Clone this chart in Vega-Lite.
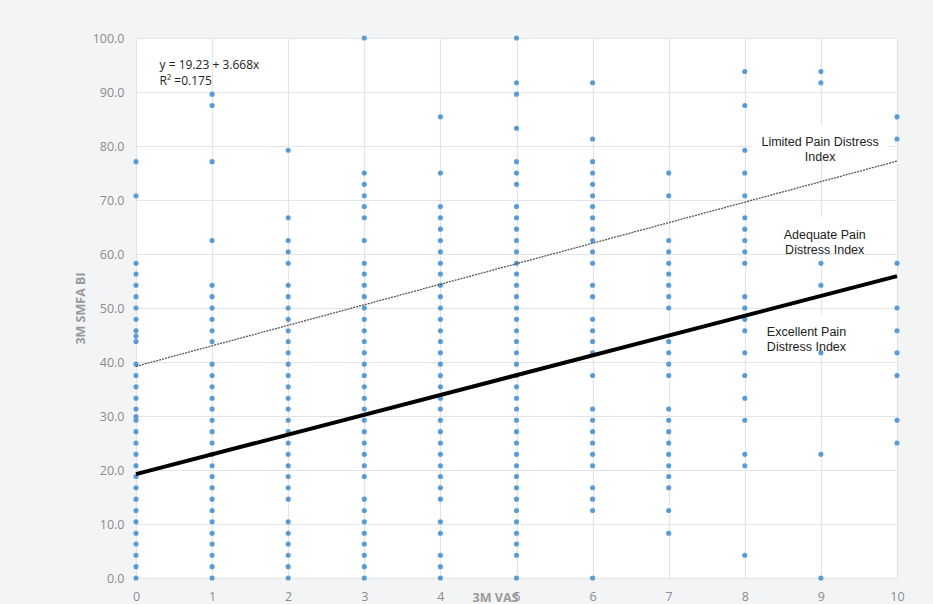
{
  "$schema": "https://vega.github.io/schema/vega-lite/v6.json",
  "autosize": "none",
  "width": 761,
  "height": 540,
  "padding": {"left": 136, "top": 38, "right": 36, "bottom": 26},
  "background": "#f3f4f5",
  "config": {
    "view": {"stroke": null, "fill": "white"},
    "axis": {
      "gridColor": "#e2e4e8",
      "gridWidth": 1.2,
      "domain": false,
      "ticks": false,
      "labelFlush": false,
      "labelOverlap": false,
      "labelColor": "#8c8c8c",
      "labelFont": "Open Sans",
      "labelFontSize": 12.5,
      "titleColor": "#9a9a9a",
      "titleFont": "Open Sans",
      "titleFontSize": 12.5,
      "titleFontWeight": "bold"
    }
  },
  "datasets": {
    "pts": [
      {"x":0,"y":0},{"x":0,"y":2.1},{"x":0,"y":4.2},{"x":0,"y":6.3},{"x":0,"y":8.3},{"x":0,"y":10.4},{"x":0,"y":12.5},{"x":0,"y":14.6},{"x":0,"y":16.7},{"x":0,"y":18.8},{"x":0,"y":20.8},{"x":0,"y":22.9},{"x":0,"y":25.0},{"x":0,"y":27.1},{"x":0,"y":29.2},{"x":0,"y":29.9},{"x":0,"y":31.3},{"x":0,"y":33.3},{"x":0,"y":35.4},{"x":0,"y":37.5},{"x":0,"y":39.6},{"x":0,"y":43.8},{"x":0,"y":44.8},{"x":0,"y":45.8},{"x":0,"y":47.9},{"x":0,"y":50.0},{"x":0,"y":52.1},{"x":0,"y":54.2},{"x":0,"y":56.3},{"x":0,"y":58.3},{"x":0,"y":70.8},{"x":0,"y":77.1},
      {"x":1,"y":0},{"x":1,"y":2.1},{"x":1,"y":4.2},{"x":1,"y":6.3},{"x":1,"y":8.3},{"x":1,"y":10.4},{"x":1,"y":12.5},{"x":1,"y":14.6},{"x":1,"y":16.7},{"x":1,"y":18.8},{"x":1,"y":20.8},{"x":1,"y":22.9},{"x":1,"y":25.0},{"x":1,"y":27.1},{"x":1,"y":29.2},{"x":1,"y":31.3},{"x":1,"y":33.3},{"x":1,"y":35.4},{"x":1,"y":37.5},{"x":1,"y":39.6},{"x":1,"y":43.8},{"x":1,"y":45.8},{"x":1,"y":47.9},{"x":1,"y":50.0},{"x":1,"y":52.1},{"x":1,"y":54.2},{"x":1,"y":62.5},{"x":1,"y":77.1},{"x":1,"y":87.5},{"x":1,"y":89.6},
      {"x":2,"y":0},{"x":2,"y":2.1},{"x":2,"y":4.2},{"x":2,"y":6.3},{"x":2,"y":8.3},{"x":2,"y":10.4},{"x":2,"y":14.6},{"x":2,"y":16.7},{"x":2,"y":18.8},{"x":2,"y":20.8},{"x":2,"y":22.9},{"x":2,"y":25.0},{"x":2,"y":27.1},{"x":2,"y":29.2},{"x":2,"y":31.3},{"x":2,"y":33.3},{"x":2,"y":35.4},{"x":2,"y":37.5},{"x":2,"y":39.6},{"x":2,"y":41.7},{"x":2,"y":43.8},{"x":2,"y":45.8},{"x":2,"y":47.9},{"x":2,"y":50.0},{"x":2,"y":52.1},{"x":2,"y":54.2},{"x":2,"y":58.3},{"x":2,"y":60.4},{"x":2,"y":62.5},{"x":2,"y":66.7},{"x":2,"y":79.2},
      {"x":3,"y":0},{"x":3,"y":2.1},{"x":3,"y":4.2},{"x":3,"y":6.3},{"x":3,"y":8.3},{"x":3,"y":10.4},{"x":3,"y":12.5},{"x":3,"y":14.6},{"x":3,"y":18.8},{"x":3,"y":20.8},{"x":3,"y":22.9},{"x":3,"y":25.0},{"x":3,"y":27.1},{"x":3,"y":29.2},{"x":3,"y":31.3},{"x":3,"y":33.3},{"x":3,"y":35.4},{"x":3,"y":37.5},{"x":3,"y":39.6},{"x":3,"y":41.7},{"x":3,"y":43.8},{"x":3,"y":45.8},{"x":3,"y":47.9},{"x":3,"y":50.0},{"x":3,"y":52.1},{"x":3,"y":54.2},{"x":3,"y":56.3},{"x":3,"y":58.3},{"x":3,"y":62.5},{"x":3,"y":66.7},{"x":3,"y":68.8},{"x":3,"y":70.8},{"x":3,"y":72.9},{"x":3,"y":75.0},{"x":3,"y":100},
      {"x":4,"y":0},{"x":4,"y":2.1},{"x":4,"y":4.2},{"x":4,"y":8.3},{"x":4,"y":10.4},{"x":4,"y":14.6},{"x":4,"y":16.7},{"x":4,"y":18.8},{"x":4,"y":20.8},{"x":4,"y":22.9},{"x":4,"y":25.0},{"x":4,"y":27.1},{"x":4,"y":29.2},{"x":4,"y":31.3},{"x":4,"y":33.3},{"x":4,"y":35.4},{"x":4,"y":37.5},{"x":4,"y":39.6},{"x":4,"y":41.7},{"x":4,"y":43.8},{"x":4,"y":45.8},{"x":4,"y":47.9},{"x":4,"y":50.0},{"x":4,"y":52.1},{"x":4,"y":54.2},{"x":4,"y":56.3},{"x":4,"y":58.3},{"x":4,"y":60.4},{"x":4,"y":62.5},{"x":4,"y":64.6},{"x":4,"y":66.7},{"x":4,"y":68.8},{"x":4,"y":75.0},{"x":4,"y":85.4},
      {"x":5,"y":0},{"x":5,"y":4.2},{"x":5,"y":6.3},{"x":5,"y":8.3},{"x":5,"y":10.4},{"x":5,"y":12.5},{"x":5,"y":14.6},{"x":5,"y":16.7},{"x":5,"y":18.8},{"x":5,"y":20.8},{"x":5,"y":22.9},{"x":5,"y":25.0},{"x":5,"y":27.1},{"x":5,"y":29.2},{"x":5,"y":31.3},{"x":5,"y":33.3},{"x":5,"y":35.4},{"x":5,"y":37.5},{"x":5,"y":39.6},{"x":5,"y":41.7},{"x":5,"y":43.8},{"x":5,"y":45.8},{"x":5,"y":47.9},{"x":5,"y":50.0},{"x":5,"y":52.1},{"x":5,"y":54.2},{"x":5,"y":56.3},{"x":5,"y":58.3},{"x":5,"y":60.4},{"x":5,"y":62.5},{"x":5,"y":64.6},{"x":5,"y":66.7},{"x":5,"y":68.8},{"x":5,"y":72.9},{"x":5,"y":75.0},{"x":5,"y":77.1},{"x":5,"y":83.3},{"x":5,"y":89.6},{"x":5,"y":91.7},{"x":5,"y":100},
      {"x":6,"y":0},{"x":6,"y":12.5},{"x":6,"y":14.6},{"x":6,"y":16.7},{"x":6,"y":20.8},{"x":6,"y":22.9},{"x":6,"y":25.0},{"x":6,"y":27.1},{"x":6,"y":29.2},{"x":6,"y":31.3},{"x":6,"y":37.5},{"x":6,"y":41.7},{"x":6,"y":43.8},{"x":6,"y":45.8},{"x":6,"y":47.9},{"x":6,"y":52.1},{"x":6,"y":54.2},{"x":6,"y":58.3},{"x":6,"y":60.4},{"x":6,"y":62.5},{"x":6,"y":64.6},{"x":6,"y":66.7},{"x":6,"y":68.8},{"x":6,"y":70.8},{"x":6,"y":72.9},{"x":6,"y":75.0},{"x":6,"y":77.1},{"x":6,"y":81.3},{"x":6,"y":91.7},
      {"x":7,"y":8.3},{"x":7,"y":12.5},{"x":7,"y":16.7},{"x":7,"y":18.8},{"x":7,"y":20.8},{"x":7,"y":22.9},{"x":7,"y":25.0},{"x":7,"y":27.1},{"x":7,"y":29.2},{"x":7,"y":31.3},{"x":7,"y":37.5},{"x":7,"y":39.6},{"x":7,"y":41.7},{"x":7,"y":43.8},{"x":7,"y":50.0},{"x":7,"y":52.1},{"x":7,"y":54.2},{"x":7,"y":56.3},{"x":7,"y":58.3},{"x":7,"y":60.4},{"x":7,"y":62.5},{"x":7,"y":70.8},{"x":7,"y":75.0},
      {"x":8,"y":4.2},{"x":8,"y":20.8},{"x":8,"y":22.9},{"x":8,"y":29.2},{"x":8,"y":33.3},{"x":8,"y":37.5},{"x":8,"y":41.7},{"x":8,"y":45.8},{"x":8,"y":47.9},{"x":8,"y":50.0},{"x":8,"y":52.1},{"x":8,"y":58.3},{"x":8,"y":60.4},{"x":8,"y":62.5},{"x":8,"y":64.6},{"x":8,"y":66.7},{"x":8,"y":70.8},{"x":8,"y":75.0},{"x":8,"y":79.2},{"x":8,"y":87.5},{"x":8,"y":93.8},
      {"x":9,"y":0},{"x":9,"y":22.9},{"x":9,"y":41.7},{"x":9,"y":54.2},{"x":9,"y":58.3},{"x":9,"y":91.7},{"x":9,"y":93.8},
      {"x":10,"y":25.0},{"x":10,"y":29.2},{"x":10,"y":37.5},{"x":10,"y":41.7},{"x":10,"y":45.8},{"x":10,"y":50.0},{"x":10,"y":58.3},{"x":10,"y":81.3},{"x":10,"y":85.4}
    ],
    "fit": [{"x":0,"y":19.23},{"x":10,"y":55.91}],
    "limit": [{"x":0,"y":39.2},{"x":10,"y":77.2}],
    "boxes": [
      {"x":8.09,"x2":9.88,"y":83.9,"y2":77.8},
      {"x":8.2,"x2":9.91,"y":66.9,"y2":60.7},
      {"x":8.2,"x2":9.84,"y":48.9,"y2":42.6}
    ],
    "centerLabels": [
      {"x":8.99,"y":80.7,"t":"Limited Pain Distress\nIndex"},
      {"x":9.05,"y":63.5,"t":"Adequate Pain\nDistress Index"}
    ],
    "leftLabels": [
      {"x":8.29,"y":45.6,"t":"Excellent Pain\nDistress Index"}
    ],
    "eq": [
      {"x":0.31,"y":95.0,"t":"y = 19.23 + 3.668x\nR² =0.175"}
    ]
  },
  "encoding": {
    "x": {"field":"x","type":"quantitative","scale":{"domain":[0,10],"nice":false,"zero":false},
      "axis":{"values":[0,1,2,3,4,5,6,7,8,9,10],"labelPadding":12,"title":"3M VAS","titleX":359,"titleY":19,"titleBaseline":"middle","titleAnchor":"middle","titleAlign":"center"}},
    "y": {"field":"y","type":"quantitative","scale":{"domain":[0,100],"nice":false},
      "axis":{"values":[0,10,20,30,40,50,60,70,80,90,100],"format":".1f","labelPadding":12,"title":"3M SMFA BI","titlePadding":5}}
  },
  "layer": [
    {"data":{"name":"pts"},"mark":{"type":"circle","size":26,"color":"#5b9bd5","opacity":1}},
    {"data":{"name":"limit"},"mark":{"type":"line","color":"#555555","strokeWidth":1.3,"strokeDash":[2,1]}},
    {"data":{"name":"fit"},"mark":{"type":"line","color":"#000000","strokeWidth":4}},
    {"data":{"name":"boxes"},"mark":{"type":"rect","fill":"white"},
      "encoding":{"x2":{"field":"x2"},"y2":{"field":"y2"}}},
    {"data":{"name":"centerLabels"},"mark":{"type":"text","font":"Liberation Sans","fontSize":12.5,"color":"#222222","align":"center","baseline":"middle","lineBreak":"\n","lineHeight":15},
      "encoding":{"text":{"field":"t"}}},
    {"data":{"name":"leftLabels"},"mark":{"type":"text","font":"Liberation Sans","fontSize":12.5,"color":"#222222","align":"left","baseline":"middle","lineBreak":"\n","lineHeight":15},
      "encoding":{"text":{"field":"t"}}},
    {"data":{"name":"eq"},"mark":{"type":"text","font":"Open Sans","fontSize":12,"color":"#222222","align":"left","baseline":"middle","lineBreak":"\n","lineHeight":16},
      "encoding":{"text":{"field":"t"}}}
  ]
}
